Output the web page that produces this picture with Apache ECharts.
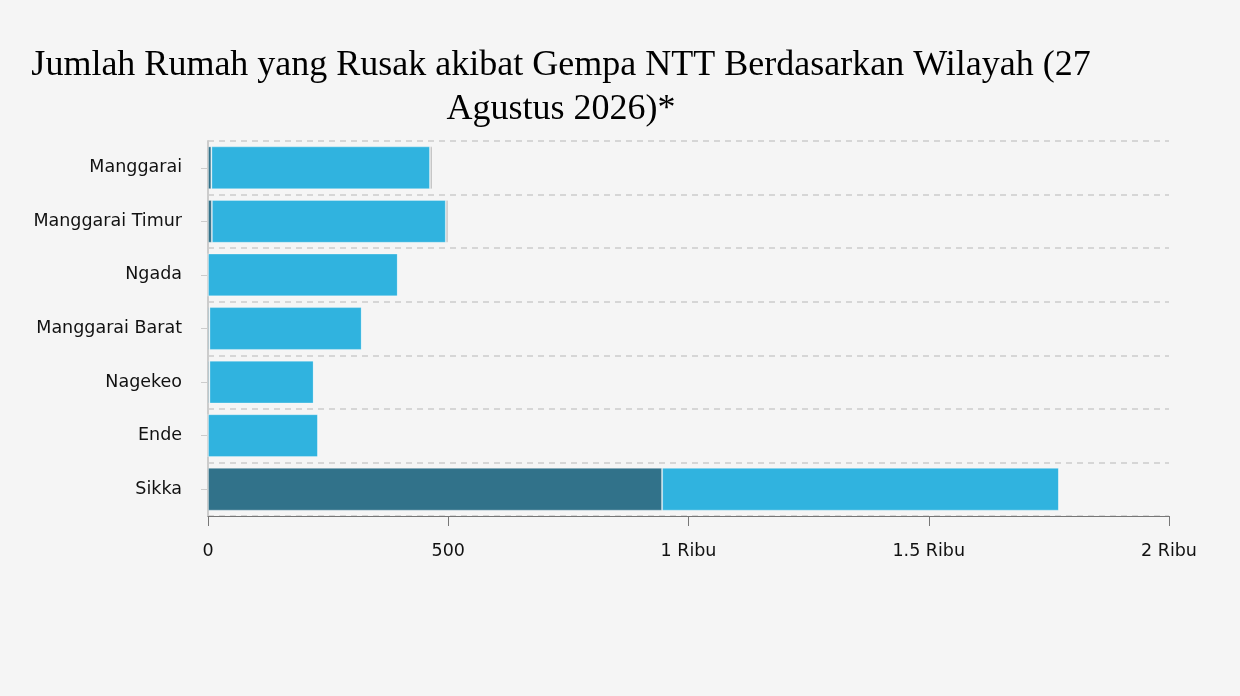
<!DOCTYPE html>
<html>
<head>
<meta charset="utf-8">
<script src="https://cdn.jsdelivr.net/npm/echarts@6/dist/echarts.min.js"></script>
<style>
  html, body { margin: 0; padding: 0; background: #f5f5f5; }
  #chartmain { width: 1240px; height: 696px; }
</style>
</head>
<body>
<div id="chartmain"></div>
<script>
// data
var wilayah = ['Manggarai', 'Manggarai Timur', 'Ngada', 'Manggarai Barat', 'Nagekeo', 'Ende', 'Sikka'];
var rusakBerat = [7, 8, 0, 3, 3, 0, 945];
var rusakSedang = [455, 487, 395, 317, 217, 229, 826];
var rusakLain = [5, 5, 0, 0, 0, 0, 0];
var xTicks = ['0', '500', '1 Ribu', '1.5 Ribu', '2 Ribu'];

var myChart = echarts.init(document.getElementById('chartmain'));

function barSeries(name, data, color) {
    return {
        name: name,
        type: 'bar',
        stack: 'total',
        barCategoryGap: '20%',
        data: data,
        itemStyle: { color: color, borderColor: 'rgba(255,255,255,0.3)', borderWidth: 1 },
        emphasis: { disabled: true }
    };
}

var option = {
    backgroundColor: '#f5f5f5',
    title: {
        text: 'Jumlah Rumah yang Rusak akibat Gempa NTT Berdasarkan Wilayah (27\nAgustus 2026)*',
        left: 556,
        top: 39,
        textAlign: 'center',
        textStyle: {
            fontFamily: 'Liberation Serif',
            fontSize: 36,
            fontWeight: 'normal',
            color: '#000',
            lineHeight: 44
        }
    },
    grid: { left: 208, right: 71, top: 141, bottom: 180 },
    xAxis: {
        type: 'value',
        min: 0,
        max: 2000,
        interval: 500,
        axisLine: { show: true, lineStyle: { color: '#777' } },
        axisTick: { show: true, length: 10, lineStyle: { color: '#777' } },
        splitLine: { show: false },
        axisLabel: {
            margin: 26,
            fontFamily: 'DejaVu Sans',
            fontSize: 17.5,
            color: '#111',
            formatter: function (v) { return xTicks[v / 500]; }
        }
    },
    yAxis: {
        type: 'category',
        inverse: true,
        data: wilayah,
        axisLine: { show: true, lineStyle: { color: '#ccc', width: 2 } },
        axisTick: { show: true, alignWithLabel: true, length: 7, lineStyle: { color: '#ccc' } },
        splitLine: { show: true, lineStyle: { color: '#ccc', type: [6, 5], width: 1.5 } },
        axisLabel: {
            margin: 26,
            padding: [5, 0, 0, 0],
            fontFamily: 'DejaVu Sans',
            fontSize: 17.5,
            color: '#111'
        }
    },
    series: [
        barSeries('Rusak Berat', rusakBerat, '#31728a'),
        barSeries('Rusak Ringan', rusakSedang, '#30b3df'),
        barSeries('Lainnya', rusakLain, '#b3b3b3')
    ]
};
myChart.setOption(option);
</script>
</body>
</html>
